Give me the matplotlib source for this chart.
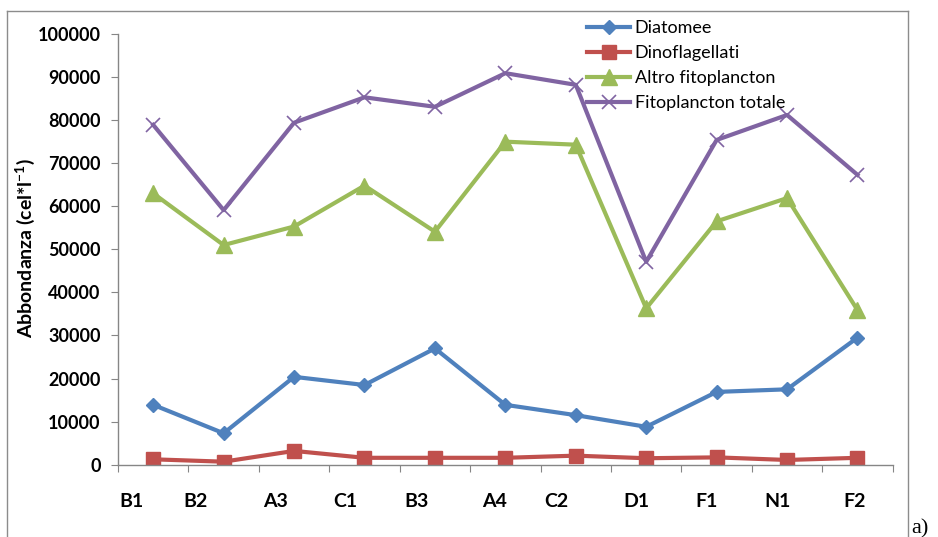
import matplotlib
matplotlib.use("Agg")
import matplotlib.pyplot as plt
from matplotlib.lines import Line2D
import matplotlib.transforms as mtransforms

# Data
stations = ["B1", "B2", "A3", "C1", "B3", "A4", "C2", "D1", "F1", "N1", "F2"]
diatomee = [13900, 7300, 20400, 18500, 27000, 13900, 11500, 8800, 16900, 17500, 29500]
dinoflagellati = [1250, 700, 3200, 1600, 1600, 1600, 2100, 1500, 1700, 1100, 1600]
altro = [63000, 51000, 55300, 64800, 54100, 75000, 74300, 36300, 56500, 61900, 35900]
totale = [78900, 59100, 79400, 85300, 83100, 90900, 88200, 47100, 75400, 81200, 67300]
yticks = list(range(0, 100001, 10000))

# label shifts (category units) as they sit in the original
label_shift = [-0.31, -0.40, -0.27, -0.27, -0.26, -0.16, -0.27, -0.14, -0.14, -0.13, -0.04]

plt.rcParams["font.family"] = ["Lato", "DejaVu Sans"]
plt.rcParams["mathtext.fontset"] = "custom"
plt.rcParams["mathtext.rm"] = "Lato"
plt.rcParams["mathtext.bf"] = "Lato:bold"

fig = plt.figure(figsize=(9.38, 5.37), dpi=100)
W, H = 938, 537
ax = fig.add_axes([118 / W, 1 - 464.7 / H, (892.7 - 118) / W, (464.7 - 34) / H])

x = [i + 0.5 for i in range(len(stations))]
ax.plot(x, diatomee, color="#4F81BD", lw=3, marker="D", ms=7.5, label="Diatomee")
ax.plot(x, dinoflagellati, color="#C0504D", lw=3, marker="s", ms=10, label="Dinoflagellati")
ax.plot(x, altro, color="#9BBB59", lw=3, marker="^", ms=11, label="Altro fitoplancton")
ax.plot(x, totale, color="#8064A2", lw=3, marker="x", ms=10, mew=1.2, label="Fitoplancton totale")

ax.set_xlim(0, len(stations))
ax.set_ylim(0, 100000)
ax.set_yticks(yticks)
ax.set_yticklabels([str(v) for v in yticks], fontsize=13, fontweight="bold")
ax.set_xticks(range(len(stations) + 1))
ax.set_xticklabels([])
ax.tick_params(axis="y", length=5, color="#868686", pad=7.5)
ax.tick_params(axis="x", length=5, color="#868686")

for s in ["top", "right"]:
    ax.spines[s].set_visible(False)
for s in ["left", "bottom"]:
    ax.spines[s].set_color("#868686")
    ax.spines[s].set_linewidth(1)

trans = mtransforms.blended_transform_factory(ax.transData, ax.transAxes)
for xi, name, dx in zip(x, stations, label_shift):
    ax.text(xi + dx, -0.0866, name, transform=trans, ha="center", va="center",
            fontsize=14, fontweight="bold")

fig.text(25 / W, 1 - 248 / H, r"Abbondanza (cel*l$^{\mathbf{-1}}$)", rotation=90,
         ha="center", va="center", fontsize=14, fontweight="bold")

ax.legend(loc="upper left", bbox_to_anchor=(587 / W, 1 - 20 / H),
          bbox_transform=fig.transFigure, frameon=False, fontsize=13,
          handlelength=2.4, handletextpad=0.25, labelspacing=0.5,
          borderpad=0, borderaxespad=0)

# outer frame of the original picture
frame = dict(color="#8c8c8c", lw=1, transform=fig.transFigure)
fig.add_artist(Line2D([7 / W, 7 / W], [0, 1 - 11 / H], **frame))
fig.add_artist(Line2D([7 / W, 908 / W], [1 - 11 / H, 1 - 11 / H], **frame))
fig.add_artist(Line2D([908 / W, 908 / W], [0, 1 - 11 / H], **frame))

fig.text(911 / W, 1 - 533 / H, "a)", family="Liberation Serif", fontsize=16,
         ha="left", va="baseline")

fig.savefig("out.png", dpi=100)
